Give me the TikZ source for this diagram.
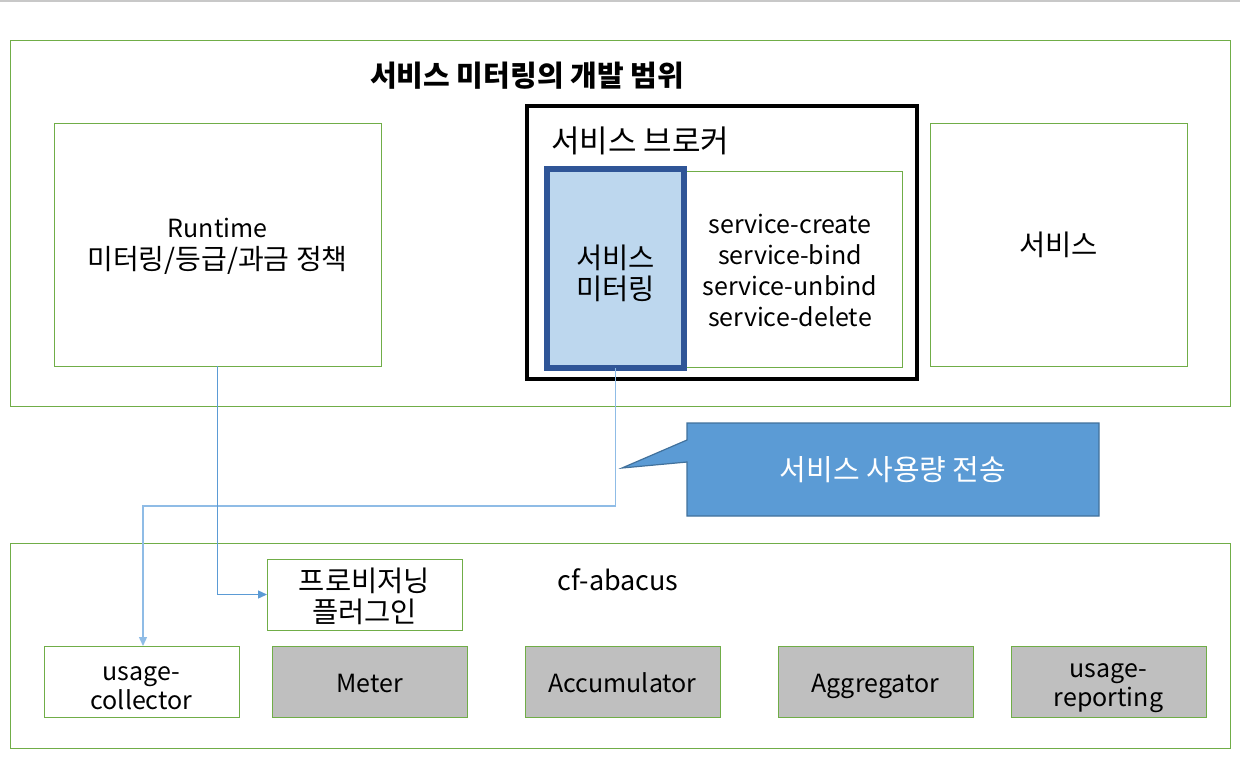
\documentclass[tikz,border=0pt]{standalone}
\usepackage{fontspec}
\setmainfont{Noto Sans CJK KR}
\usetikzlibrary{arrows.meta}
\definecolor{grn}{HTML}{70AD47}
\definecolor{gry}{HTML}{BFBFBF}
\definecolor{dkblue}{HTML}{2F5597}
\definecolor{ltblue}{HTML}{BDD7EE}
\definecolor{callfill}{HTML}{5B9BD5}
\definecolor{callline}{HTML}{41719C}
\definecolor{conn}{HTML}{5B9BD5}
\definecolor{connlt}{HTML}{8FBCE6}
\definecolor{topline}{HTML}{C8C8C8}
\newcommand{\krf}{\fontsize{28.5}{31}\selectfont}
\tikzset{
  box/.style={draw=grn, line width=1pt, inner sep=0pt, outer sep=0pt, align=center,
    font=\fontsize{25}{30}\selectfont},
  graybox/.style={box, fill=gry, text height=24pt, text depth=3pt},
  txt/.style={inner sep=0pt, outer sep=0pt, align=center, font=\fontsize{25}{31}\selectfont},
  connector/.style={draw=conn, line width=1.3pt, -{Triangle[length=9pt,width=8pt]}},
}
\begin{document}
\begin{tikzpicture}[x=1pt,y=-1pt]
\useasboundingbox (0,0) rectangle (1240,772);
\coordinate (tl) at (0,1);
\coordinate (tr) at (1240,1);
\draw[topline, line width=2pt] (tl) -- (tr);

% top area
\node[box, minimum width=1220, minimum height=366] (outerTop) at (620,223) {};
\node[txt, font=\fontsize{29}{31}\selectfont\bfseries] (title) at (527,76) {서비스 미터링의 개발 범위};
\node[box, minimum width=327, minimum height=243, font=\fontsize{25}{32}\selectfont] (runtime) at (217.5,244.5) {\rule{0pt}{22pt}Runtime\\{\fontsize{28}{32}\selectfont 미터링/등급/과금 정책}};
\node[draw=black, line width=3.5pt, inner sep=0pt, outer sep=0pt, minimum width=390, minimum height=273] (broker) at (722,242.5) {};
\node[txt, anchor=west, font=\fontsize{31}{33}\selectfont] (brokerLabel) at (551,141) {서비스 브로커};
\node[box, minimum width=355, minimum height=196] (ops) at (724.5,269) {};
\node[txt] (opsText) at (790,270) {service-create\\service-bind\\service-unbind\\service-delete};
\node[box, draw=dkblue, fill=ltblue, line width=5.5pt, minimum width=137, minimum height=199, font=\krf] (metering) at (615.5,268.5) {\rule{0pt}{33pt}서비스\\미터링};
\node[box, minimum width=257, minimum height=243, font=\krf] (svc) at (1058.5,244.5) {서비스};

% callout
\coordinate (ca) at (687,423);
\coordinate (cb) at (1099,423);
\coordinate (cc) at (1099,516);
\coordinate (cd) at (687,516);
\coordinate (ce) at (687,462);
\coordinate (tip) at (622,468);
\coordinate (cf) at (687,440);
\filldraw[fill=callfill, draw=callline, line width=1.2pt, line join=miter] (ca) -- (cb) -- (cc) -- (cd) -- (ce) -- (tip) -- (cf) -- cycle;
\node[txt, text=white, font=\fontsize{29}{31}\selectfont] (callout) at (893,470) {서비스 사용량 전송};

% bottom area
\node[box, minimum width=1220, minimum height=205] (outerBot) at (620,645.5) {};
\node[txt, font=\fontsize{27}{31}\selectfont] (abacus) at (618,580) {cf-abacus};
\node[box, minimum width=195, minimum height=71, font=\krf] (plugin) at (364.5,594.5) {\rule{0pt}{28pt}프로비저닝\\플러그인};
\node[box, minimum width=195, minimum height=71, font=\fontsize{25}{29}\selectfont] (collector) at (141.5,681.5) {\rule{0pt}{28pt}usage-\\collector};
\node[graybox, minimum width=195, minimum height=71] (meter) at (369.5,681.5) {Meter};
\node[graybox, minimum width=195, minimum height=71] (accum) at (622.5,681.5) {Accumulator};
\node[graybox, minimum width=195, minimum height=71] (aggr) at (875.5,681.5) {Aggregator};
\node[box, fill=gry, minimum width=195, minimum height=71, font=\fontsize{25}{29}\selectfont] (reporting) at (1108.5,681.5) {\rule{0pt}{28pt}usage-\\reporting};

% connectors
\coordinate (bend) at (143,506);
\draw[connector, draw=connlt] (metering.south) |- (bend) -- (bend |- collector.north);
\draw[connector] (runtime.south) |- (plugin.west);
\end{tikzpicture}
\end{document}
